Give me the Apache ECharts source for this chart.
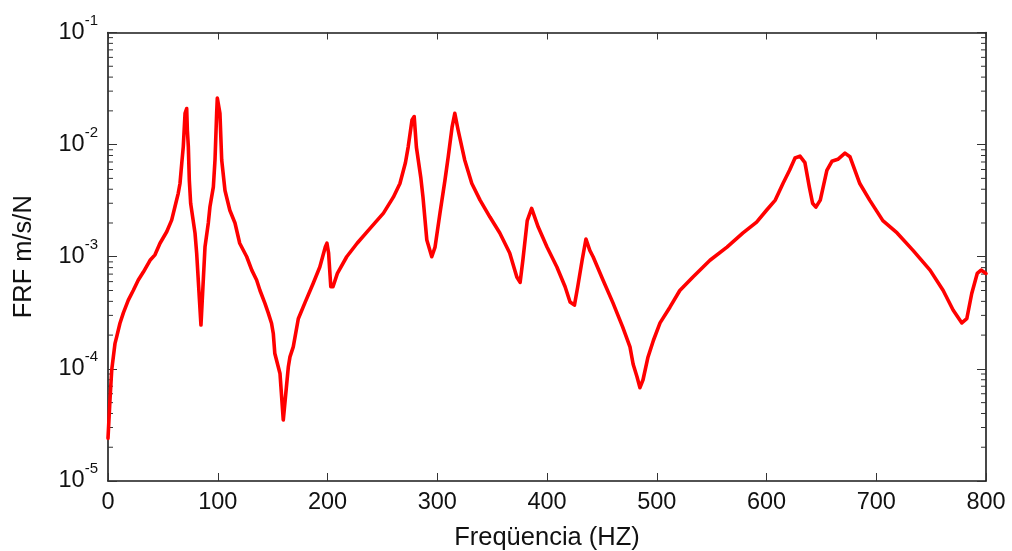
<!DOCTYPE html>
<html>
<head>
<meta charset="utf-8">
<script src="https://cdn.jsdelivr.net/npm/echarts@6/dist/echarts.min.js"></script>
<style>html,body{margin:0;padding:0;background:#fff;}#c{width:1012px;height:551px;}</style>
</head>
<body>
<div id="c"></div>
<script>
// Frequency (Hz)
var freqHz = [0,1.8,3.4,6.4,7.9,10.9,14,18.5,23,27.6,32.2,38.3,42.8,47.4,53.5,58,61,64,65.6,67.2,68.6,70.2,71.7,72.3,73.2,74.1,75.3,79.3,80.8,84.7,88.4,91.4,92.9,96,97.5,99,99.6,102,103.6,106.6,111,115.7,120,126.4,131,135.4,138.5,143,146,149,150.6,152,156.7,159.7,164.3,165.8,168.8,173.4,179.5,187,193,198,199.5,201,203,205,209,217.5,227,239,251,260,266,271,273.5,277,279,281,285,287,290.5,295,298,302.5,307,310,313.5,316,319,325,331.5,339,348,357,366,372.5,375.5,378,382,386,392,400,409,416.5,421,425,428,432,435.5,439,442,451,460,469,475.6,478.5,482,484.7,487.5,492,497,503,512,521,533,548.5,564,578.6,591,600,608,615,621,626,630.5,635,639,642,645,649,655,659.6,665,671.5,676,685,694,706,719,733.5,749,761,770,778,782.5,787,792,795.5,800];
// FRF (m/s/N)
var frfValues = [2.4e-5,5.3e-5,9.8e-5,1.69e-4,1.93e-4,2.55e-4,3.16e-4,4.1e-4,5.0e-4,6.2e-4,7.3e-4,9.3e-4,1.04e-3,1.32e-3,1.67e-3,2.12e-3,2.79e-3,3.68e-3,4.5e-3,6.8e-3,9.6e-3,1.9e-2,2.1e-2,1.35e-2,9.6e-3,4.8e-3,3.0e-3,1.62e-3,1.07e-3,2.46e-4,1.23e-3,2.0e-3,2.79e-3,4.2e-3,7.3e-3,1.9e-2,2.6e-2,1.9e-2,7.3e-3,3.9e-3,2.6e-3,2.0e-3,1.32e-3,1.0e-3,7.6e-4,6.2e-4,5.0e-4,3.84e-4,3.16e-4,2.55e-4,2.07e-4,1.37e-4,9.1e-5,3.5e-5,1.04e-4,1.28e-4,1.57e-4,2.8e-4,3.9e-4,5.8e-4,8.1e-4,1.22e-3,1.32e-3,1.08e-3,5.4e-4,5.4e-4,7.1e-4,1.0e-3,1.32e-3,1.8e-3,2.45e-3,3.4e-3,4.5e-3,6.9e-3,9.5e-3,1.66e-2,1.78e-2,9.5e-3,5.1e-3,3.4e-3,1.41e-3,1.0e-3,1.22e-3,2.45e-3,4.8e-3,7.8e-3,1.43e-2,1.9e-2,1.35e-2,7.3e-3,4.5e-3,3.2e-3,2.26e-3,1.63e-3,1.08e-3,6.6e-4,5.9e-4,9.3e-4,2.1e-3,2.7e-3,1.84e-3,1.22e-3,8.1e-4,5.4e-4,3.95e-4,3.7e-4,5.4e-4,9.3e-4,1.44e-3,1.14e-3,1.0e-3,6.2e-4,3.9e-4,2.36e-4,1.57e-4,1.1e-4,8.5e-5,6.8e-5,8.0e-5,1.27e-4,1.8e-4,2.57e-4,3.55e-4,5.0e-4,6.6e-4,9.3e-4,1.22e-3,1.63e-3,2.04e-3,2.6e-3,3.2e-3,4.5e-3,5.9e-3,7.6e-3,7.9e-3,6.9e-3,4.2e-3,3.0e-3,2.77e-3,3.2e-3,5.9e-3,7.1e-3,7.4e-3,8.4e-3,7.8e-3,4.5e-3,3.2e-3,2.1e-3,1.63e-3,1.14e-3,7.6e-4,5.0e-4,3.35e-4,2.57e-4,2.8e-4,4.7e-4,7.1e-4,7.6e-4,7.1e-4];
// Axis ticks
var xTicks = [0,100,200,300,400,500,600,700,800];
var yMin = 1e-5, yMax = 1e-1;
var minorMantissas = [2,3,4,5,6,7,8,9];
var decades = [1e-5,1e-4,1e-3,1e-2];

var lineData = freqHz.map(function(f,i){ return [f, frfValues[i]]; });
var minorData = [];
decades.forEach(function(d){ minorMantissas.forEach(function(m){ minorData.push([0, m*d]); }); });

var FONT = "'Liberation Sans', Arial, sans-serif";
var axisLineStyle = {color:'#1a1a1a', width:1.6};

var chart = echarts.init(document.getElementById('c'));
chart.setOption({
  animation:false,
  backgroundColor:'#fff',
  grid:{left:108, right:26, top:32.5, bottom:70, containLabel:false, outerBoundsMode:'none'},
  xAxis:[{
    type:'value', min:xTicks[0], max:xTicks[xTicks.length-1], interval:100,
    name:'Freqüencia (HZ)', nameLocation:'middle', nameGap:44,
    nameTextStyle:{fontFamily:FONT, fontSize:25.5, color:'#111'},
    axisLine:{show:true, onZero:false, lineStyle:axisLineStyle},
    axisTick:{show:true, inside:true, length:8, lineStyle:{color:'#333', width:1}},
    axisLabel:{fontFamily:FONT, fontSize:23.5, color:'#111', margin:10},
    splitLine:{show:false}
  },{
    type:'value', position:'top', min:xTicks[0], max:xTicks[xTicks.length-1], interval:100,
    axisLine:{show:true, onZero:false, lineStyle:axisLineStyle},
    axisTick:{show:true, inside:true, length:7, lineStyle:{color:'#333', width:1}},
    axisLabel:{show:false}, splitLine:{show:false}
  }],
  yAxis:[{
    type:'log', logBase:10, min:yMin, max:yMax, splitNumber:4,
    name:'FRF m/s/N', nameLocation:'middle', nameGap:71,
    nameTextStyle:{fontFamily:FONT, fontSize:25.5, color:'#111'},
    axisLine:{show:true, onZero:false, lineStyle:axisLineStyle},
    axisTick:{show:true, inside:true, length:9, lineStyle:{color:'#333', width:1}},
    axisLabel:{
      margin:10, color:'#111',
      formatter:function(v){ var e=Math.round(Math.log10(v)); return '{b|10}{s|'+e+'}'; },
      rich:{
        b:{fontFamily:FONT, fontSize:23.5, lineHeight:24, color:'#111'},
        s:{fontFamily:FONT, fontSize:15, lineHeight:15, padding:[0,0,24,0], color:'#111'}
      }
    },
    splitLine:{show:false}
  },{
    type:'log', logBase:10, min:yMin, max:yMax, splitNumber:4, position:'right',
    axisLine:{show:true, onZero:false, lineStyle:axisLineStyle},
    axisTick:{show:true, inside:true, length:9, lineStyle:{color:'#333', width:1}},
    axisLabel:{show:false}, splitLine:{show:false}
  }],
  series:[{
    type:'custom', silent:true, z:1,
    coordinateSystem:'cartesian2d', xAxisIndex:0, yAxisIndex:0,
    data:minorData, encode:{x:0, y:1}, clip:false,
    renderItem:function(params, api){
      var p = api.coord([0, api.value(1)]);
      var cs = params.coordSys;
      var st = {stroke:'#333', lineWidth:1};
      return {type:'group', children:[
        {type:'line', shape:{x1:cs.x, y1:p[1], x2:cs.x+5, y2:p[1]}, style:st},
        {type:'line', shape:{x1:cs.x+cs.width-5, y1:p[1], x2:cs.x+cs.width, y2:p[1]}, style:st}
      ]};
    }
  },{
    type:'line', data:lineData, xAxisIndex:0, yAxisIndex:0,
    showSymbol:false, smooth:false, z:5, clip:false,
    lineStyle:{color:'#ff0000', width:3.6, join:'round', cap:'round'}
  }]
});
</script>
</body>
</html>
